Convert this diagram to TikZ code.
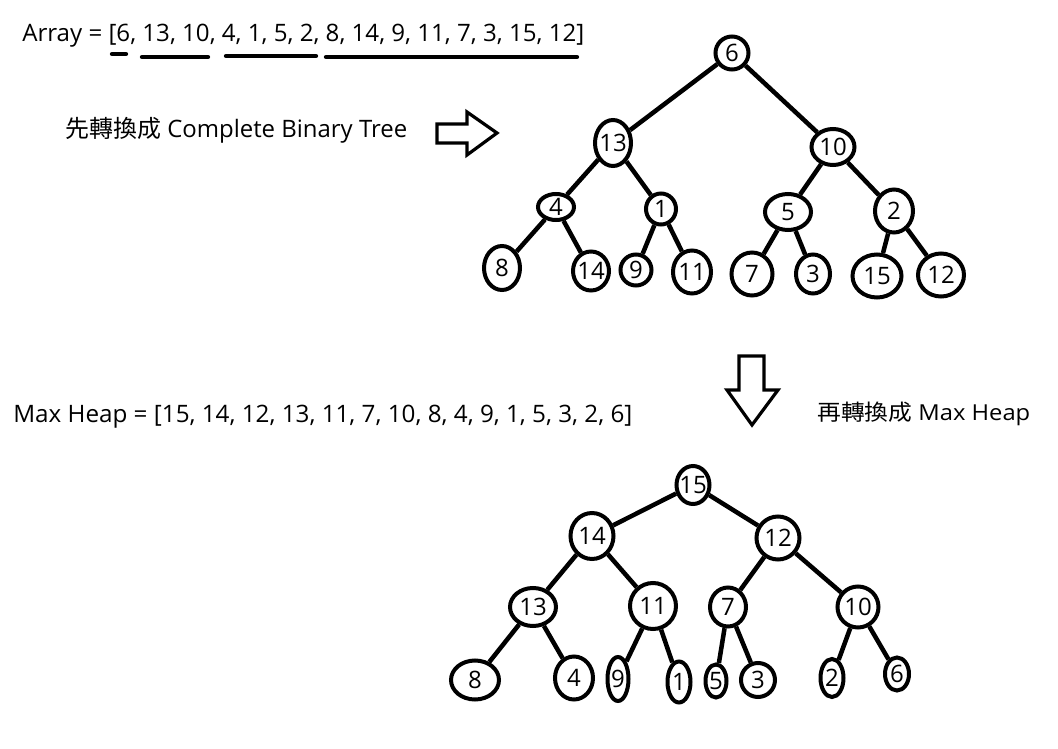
\documentclass[tikz,border=0pt]{standalone}
\usepackage{fontspec}
\usepackage{graphicx}
\setmainfont{Open Sans}
\newfontfamily\cjk{Noto Sans CJK TC}
\usetikzlibrary{shapes.geometric}
\newcommand\mynode[6]{\node[nd,sz={#4}{#5}] (#1) at (#2,#3) {\makebox[0pt]{#6}};}
\begin{document}
\begin{tikzpicture}[x=0.75pt,y=-0.75pt,
  nd/.style={ellipse, draw, line width=3pt, inner sep=0pt, font=\fontsize{18}{20}\selectfont},
  ed/.style={line width=3.4pt},
  sz/.style 2 args={minimum width=#1*0.75pt, minimum height=#2*0.75pt},
  arr/.style={draw, line width=2.4pt, line join=miter},
  ul/.style={line width=3.2pt, line cap=round},
  lbl/.style={anchor=base west, inner sep=0pt}]
\useasboundingbox (0,0) rectangle (1058,749);

% texts
\node[lbl] (t1) at (22,42) {\resizebox{421.5pt}{\height}{\fontsize{18}{20}\selectfont Array = [6, 13, 10, 4, 1, 5, 2, 8, 14, 9, 11, 7, 3, 15, 12]}};
\node[lbl] (t2) at (65,138) {\resizebox{256.5pt}{\height}{\fontsize{18}{20}\selectfont{\cjk 先轉換成} Complete Binary Tree}};
\node[lbl] (t3) at (13,422) {\resizebox{464.25pt}{\height}{\fontsize{18}{20}\selectfont Max Heap = [15, 14, 12, 13, 11, 7, 10, 8, 4, 9, 1, 5, 3, 2, 6]}};
\node[lbl] (t4) at (817,420) {\resizebox{159.75pt}{\height}{\fontsize{16.5}{18}\selectfont{\cjk 再轉換成} Max Heap}};

% underlines
\draw[ul] (112,54) -- (126,54);
\draw[ul] (142,57) -- (208,57);
\draw[ul] (226,56) -- (316,56);
\draw[ul] (326,57) -- (577,57);

% arrows
\draw[arr] (437,124) -- (467,124) -- (467,112) -- (497,133) -- (467,155) -- (467,143) -- (437,143) -- cycle;
\draw[arr] (739,356) -- (764,356) -- (764,390) -- (778,390) -- (752,425) -- (727,390) -- (739,390) -- cycle;

% tree 1
\mynode{a6}{732}{53}{33}{33}{6}
\mynode{a13}{613}{143}{36}{46}{13}
\mynode{a10}{833}{147}{43}{36}{10}
\mynode{a4}{556}{207}{36}{26}{4}
\mynode{a1}{661}{209}{30}{31}{1}
\mynode{a5}{788}{212}{46}{36}{5}
\mynode{a2}{894}{211}{38}{43}{2}
\mynode{a8}{502}{268}{36}{44}{8}
\mynode{a14}{591}{271}{36}{39}{14}
\mynode{a9}{636}{270}{31}{31}{9}
\mynode{a11}{692}{272}{38}{43}{11}
\mynode{a7}{752}{274}{41}{43}{7}
\mynode{a3}{813}{274}{34}{39}{3}
\mynode{a15}{877}{276}{49}{43}{15}
\mynode{a12}{941}{275}{46}{43}{12}
\draw[ed] (a6) -- (a13);
\draw[ed] (a6) -- (a10);
\draw[ed] (a13) -- (a4);
\draw[ed] (a13) -- (a1);
\draw[ed] (a10) -- (a5);
\draw[ed] (a10) -- (a2);
\draw[ed] (a4) -- (a8);
\draw[ed] (a4) -- (a14);
\draw[ed] (a1) -- (a9);
\draw[ed] (a1) -- (a11);
\draw[ed] (a5) -- (a7);
\draw[ed] (a5) -- (a3);
\draw[ed] (a2) -- (a15);
\draw[ed] (a2) -- (a12);

% tree 2
\mynode{b15}{693}{485}{33}{38}{15}
\mynode{b14}{592}{536}{43}{46}{14}
\mynode{b12}{778}{538}{43}{43}{12}
\mynode{b13}{533}{607}{46}{38}{13}
\mynode{b11}{653}{606}{46}{46}{11}
\mynode{b7}{728}{607}{36}{39}{7}
\mynode{b10}{858}{607}{41}{41}{10}
\mynode{b8}{475}{680}{48}{39}{8}
\mynode{b4}{574}{678}{38}{43}{4}
\mynode{b9}{618}{679}{21}{44}{9}
\mynode{b1}{679}{682}{23}{41}{1}
\mynode{b5}{716}{681}{21}{33}{5}
\mynode{b3}{758}{680}{34}{34}{3}
\mynode{b2}{832}{678}{23}{38}{2}
\mynode{b6}{897}{674}{24}{33}{6}
\draw[ed] (b15) -- (b14);
\draw[ed] (b15) -- (b12);
\draw[ed] (b14) -- (b13);
\draw[ed] (b14) -- (b11);
\draw[ed] (b12) -- (b7);
\draw[ed] (b12) -- (b10);
\draw[ed] (b13) -- (b8);
\draw[ed] (b13) -- (b4);
\draw[ed] (b11) -- (b9);
\draw[ed] (b11) -- (b1);
\draw[ed] (b7) -- (b5);
\draw[ed] (b7) -- (b3);
\draw[ed] (b10) -- (b2);
\draw[ed] (b10) -- (b6);
\end{tikzpicture}
\end{document}
